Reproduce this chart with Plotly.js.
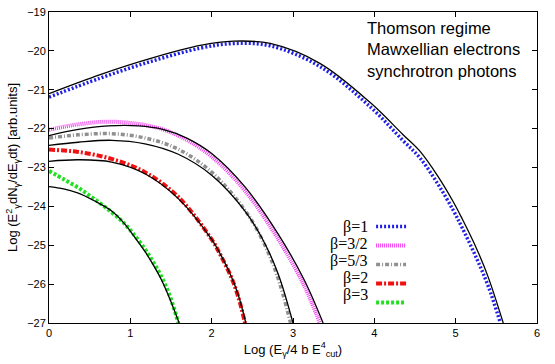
<!DOCTYPE html>
<html>
<head>
<meta charset="utf-8">
<script src="https://cdn.plot.ly/plotly-3.0.1.min.js"></script>
<style>
  html, body { margin: 0; padding: 0; background: #fff; }
  #plot { width: 555px; height: 364px; }
</style>
</head>
<body>
<div id="plot"></div>
<script>
// colored curves (beta values) and the black solid comparison curves
const labels = ['β=1', 'β=3/2', 'β=5/3', 'β=2', 'β=3'];

const x1 = [0, 0.63, 1.24, 1.86, 2.27, 2.72, 3.33, 3.95, 4.35, 4.56, 4.78, 4.97, 5.08, 5.26, 5.40, 5.55];
const y1 = [-21.19, -20.70, -20.28, -19.93, -19.81, -19.87, -20.40, -21.44, -22.3, -22.75, -23.42, -24.1, -24.55, -25.35, -26.05, -27];
const x1b = [0, 0.63, 1.24, 1.86, 2.27, 2.72, 3.33, 3.95, 4.35, 4.56, 4.78, 4.97, 5.08, 5.26, 5.40, 5.585];
const y1b = [-21.10, -20.61, -20.20, -19.86, -19.75, -19.81, -20.32, -21.33, -22.15, -22.58, -23.22, -23.88, -24.32, -25.1, -25.82, -27];

const x2 = [0, 0.36, 0.73, 1.10, 1.40, 1.70, 2.0, 2.41, 2.82, 3.14, 3.33];
const y2 = [-22.03, -21.89, -21.82, -21.88, -22.02, -22.3, -22.72, -23.6, -24.85, -26.05, -27];
const x2b = [0, 0.36, 0.73, 1.10, 1.40, 1.70, 2.0, 2.41, 2.82, 3.14, 3.37];
const y2b = [-22.18, -22.02, -21.93, -21.93, -22.02, -22.25, -22.64, -23.5, -24.72, -25.9, -27];

const x3 = [0, 0.36, 0.77, 1.18, 1.59, 2.0, 2.41, 2.62, 2.80, 2.97];
const y3 = [-22.24, -22.16, -22.13, -22.24, -22.53, -23.12, -24.1, -24.85, -25.75, -27];
const x3b = [0, 0.36, 0.77, 1.18, 1.59, 2.0, 2.41, 2.62, 2.82, 3.0];
const y3b = [-22.43, -22.35, -22.30, -22.39, -22.66, -23.2, -24.12, -24.82, -25.75, -27];

const x4 = [0, 0.36, 0.77, 1.18, 1.59, 2.0, 2.12, 2.24, 2.33, 2.41];
const y4 = [-22.54, -22.60, -22.78, -23.12, -23.76, -24.85, -25.3, -25.82, -26.35, -27];
const x4b = [0, 0.36, 0.77, 1.18, 1.59, 2.0, 2.12, 2.24, 2.33, 2.42];
const y4b = [-22.84, -22.80, -22.86, -23.16, -23.80, -24.85, -25.28, -25.8, -26.3, -27];

const x5 = [0, 0.18, 0.36, 0.55, 0.77, 0.93, 1.05, 1.18, 1.28, 1.38, 1.49, 1.59];
const y5 = [-23.09, -23.30, -23.52, -23.8, -24.15, -24.45, -24.74, -25.1, -25.43, -25.8, -26.33, -27];
const x5b = [0, 0.18, 0.36, 0.55, 0.77, 0.93, 1.05, 1.18, 1.28, 1.38, 1.49, 1.60];
const y5b = [-23.49, -23.55, -23.66, -23.85, -24.12, -24.45, -24.78, -25.16, -25.5, -25.88, -26.4, -27];

const colored = [
  {x: x1, y: y1, color: '#1f1fe6', width: 3.5, dash: '2px,2px'},
  {x: x2, y: y2, color: '#f040f0', width: 4, dash: '1px,1px'},
  {x: x3, y: y3, color: '#909090', width: 3.5, dash: '4px,2px,1px,2px'},
  {x: x4, y: y4, color: '#f01010', width: 4, dash: '6px,2px,2px,2px'},
  {x: x5, y: y5, color: '#22e022', width: 4, dash: '3px,2px'}
];
const black = [[x1b, y1b], [x2b, y2b], [x3b, y3b], [x4b, y4b], [x5b, y5b]];

const data = [];
colored.forEach((c) => {
  data.push({
    x: c.x, y: c.y, mode: 'lines', name: ' ',
    line: {color: c.color, width: c.width, dash: c.dash, shape: 'spline', smoothing: 1}
  });
});
black.forEach((b) => {
  data.push({
    x: b[0], y: b[1], mode: 'lines', showlegend: false,
    line: {color: '#000', width: 1.3, shape: 'spline', smoothing: 1}
  });
});

const annotations = [{
  text: 'Thomson regime<br>Mawxellian electrons<br>synchrotron photons',
  xref: 'paper', yref: 'paper', x: 0.648, y: 0.985,
  xanchor: 'left', yanchor: 'top', align: 'left', showarrow: false,
  font: {family: 'Liberation Sans, Arial, sans-serif', size: 16.5, color: '#000'}
}];
labels.forEach((l, i) => {
  annotations.push({
    text: l, xref: 'paper', yref: 'paper',
    x: 0.657, y: 1 - (226.5 + i * 17.1 - 12) / 311,
    xanchor: 'right', yanchor: 'middle', showarrow: false,
    font: {family: 'Liberation Serif, Times New Roman, serif', size: 16, color: '#000'}
  });
});

const layout = {
  width: 555, height: 364,
  margin: {l: 49, r: 18, t: 12, b: 41},
  plot_bgcolor: '#fff', paper_bgcolor: '#fff',
  font: {family: 'Liberation Sans, Arial, sans-serif', size: 11, color: '#000'},
  xaxis: {
    range: [0, 6], dtick: 1, tick0: 0,
    showgrid: false, zeroline: false,
    showline: true, linecolor: '#000', linewidth: 1, mirror: 'ticks',
    ticks: 'inside', ticklen: 5, tickcolor: '#000',
    title: {text: 'Log (E<sub>γ</sub>/4 b E<sup>4</sup><sub>cut</sub>)', font: {size: 13}, standoff: 6}
  },
  yaxis: {
    range: [-27, -19], dtick: 1,
    showgrid: false, zeroline: false,
    showline: true, linecolor: '#000', linewidth: 1, mirror: 'ticks',
    ticks: 'inside', ticklen: 5, tickcolor: '#000',
    title: {text: 'Log (E<sup>2</sup><sub>γ</sub>dN<sub>γ</sub>/dE<sub>γ</sub>dt) [arb.units]', font: {size: 13}, standoff: 6}
  },
  showlegend: true,
  legend: {
    x: 0.66, y: 1 - (212 - 12) / 311, xanchor: 'left', yanchor: 'top',
    bgcolor: 'rgba(0,0,0,0)', borderwidth: 0,
    font: {size: 12}, tracegroupgap: 0
  },
  annotations: annotations
};

Plotly.newPlot('plot', data, layout, {displayModeBar: false, responsive: false});
</script>
</body>
</html>
